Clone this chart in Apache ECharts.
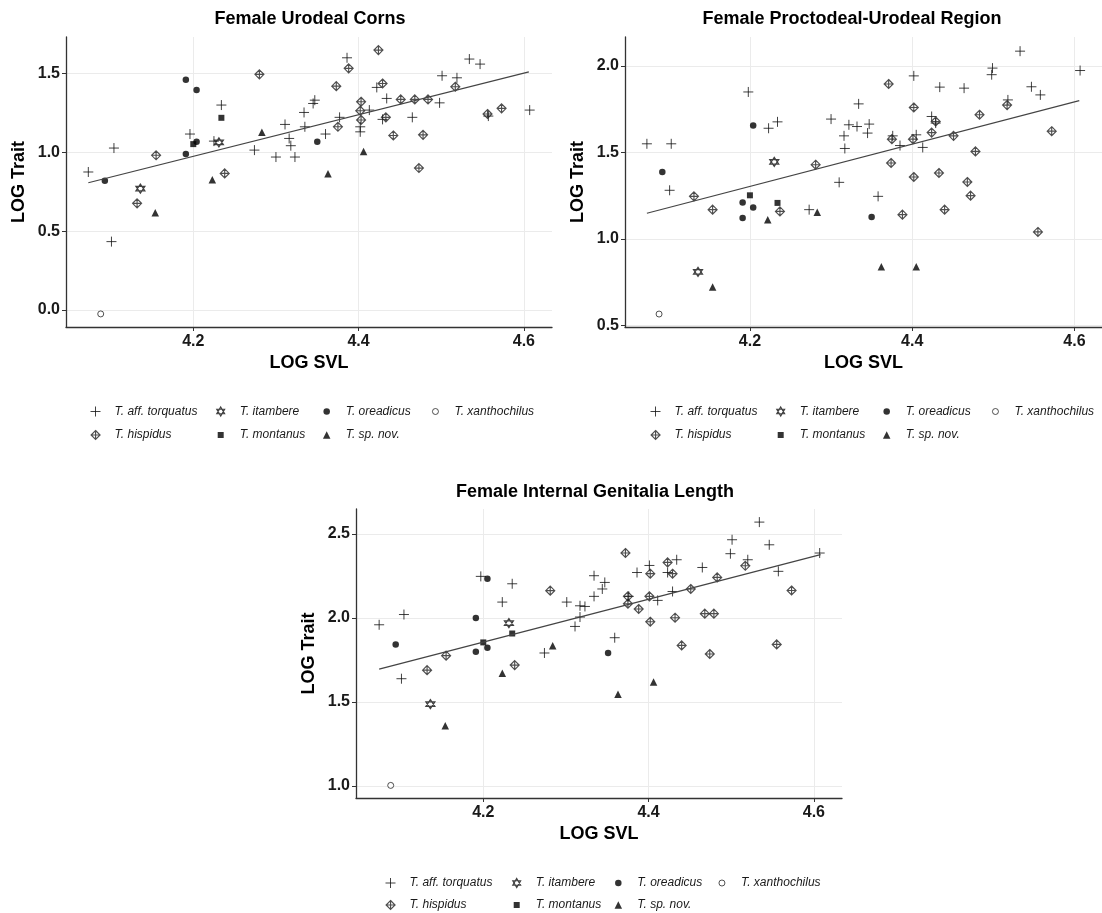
<!DOCTYPE html>
<html><head><meta charset="utf-8">
<script src="https://cdn.jsdelivr.net/npm/echarts@6/dist/echarts.min.js"></script>
<style>html,body{margin:0;padding:0;background:#fff}#chart{width:1102px;height:913px}</style>
</head><body><div id="chart"></div>
<script>
// ---------------- DATA ----------------
const speciesNames = ['T. aff. torquatus','T. itambere','T. oreadicus','T. xanthochilus','T. hispidus','T. montanus','T. sp. nov.'];
const panelTitles = ['Female Urodeal Corns','Female Proctodeal-Urodeal Region','Female Internal Genitalia Length'];
const xAxisTitle = 'LOG SVL';
const yAxisTitle = 'LOG Trait';
const xTickValues = [4.2, 4.4, 4.6];
const yTickValues1 = [0.0, 0.5, 1.0, 1.5];
const yTickValues2 = [0.5, 1.0, 1.5, 2.0];
const yTickValues3 = [1.0, 1.5, 2.0, 2.5];

// Panel 1: Female Urodeal Corns  [LOG SVL, LOG Trait]
const torquatus1 = [[4.073,0.876],[4.104,1.028],[4.101,0.434],[4.196,1.117],[4.234,1.301],[4.225,1.072],[4.274,1.015],[4.300,0.971],[4.323,0.971],[4.311,1.178],[4.316,1.089],[4.318,1.043],[4.334,1.254],[4.335,1.163],[4.345,1.311],[4.347,1.332],[4.386,1.601],[4.377,1.223],[4.360,1.117],[4.402,1.163],[4.402,1.131],[4.413,1.269],[4.422,1.413],[4.434,1.343],[4.429,1.210],[4.465,1.223],[4.498,1.315],[4.501,1.487],[4.519,1.474],[4.534,1.593],[4.547,1.561],[4.557,1.231],[4.607,1.269]];
const itambere1 = [[4.136,0.770],[4.231,1.064]];
const oreadicus1 = [[4.093,0.820],[4.191,1.461],[4.204,1.396],[4.191,0.990],[4.204,1.068],[4.350,1.068]];
const xanthochilus1 = [[4.088,-0.025]];
const hispidus1 = [[4.155,0.982],[4.132,0.677],[4.238,0.867],[4.280,1.496],[4.424,1.650],[4.388,1.534],[4.373,1.421],[4.429,1.438],[4.403,1.322],[4.402,1.265],[4.403,1.206],[4.375,1.163],[4.433,1.223],[4.451,1.337],[4.468,1.337],[4.484,1.337],[4.442,1.108],[4.478,1.112],[4.473,0.901],[4.517,1.417],[4.556,1.244],[4.573,1.280]];
const montanus1 = [[4.200,1.053],[4.234,1.220]];
const spnov1 = [[4.154,0.617],[4.223,0.827],[4.283,1.129],[4.363,0.865],[4.406,1.006]];
const fitLine1 = [[4.073,0.808],[4.606,1.512]];

// Panel 2: Female Proctodeal-Urodeal Region
const torquatus2 = [[4.073,1.550],[4.103,1.550],[4.101,1.281],[4.198,1.850],[4.223,1.640],[4.234,1.677],[4.273,1.169],[4.300,1.693],[4.310,1.327],[4.316,1.596],[4.317,1.523],[4.322,1.660],[4.334,1.781],[4.332,1.650],[4.347,1.664],[4.345,1.612],[4.358,1.246],[4.376,1.596],[4.385,1.540],[4.402,1.943],[4.405,1.602],[4.413,1.529],[4.424,1.708],[4.429,1.670],[4.434,1.878],[4.464,1.872],[4.499,1.988],[4.498,1.950],[4.518,1.804],[4.533,2.086],[4.547,1.880],[4.558,1.833],[4.607,1.974]];
const itambere2 = [[4.136,0.809],[4.230,1.445]];
const oreadicus2 = [[4.092,1.387],[4.204,1.656],[4.191,1.211],[4.191,1.121],[4.204,1.181],[4.350,1.127]];
const xanthochilus2 = [[4.088,0.565]];
const hispidus2 = [[4.131,1.246],[4.154,1.169],[4.237,1.159],[4.281,1.429],[4.371,1.896],[4.375,1.577],[4.374,1.439],[4.388,1.140],[4.402,1.760],[4.401,1.577],[4.402,1.358],[4.424,1.615],[4.429,1.679],[4.433,1.381],[4.440,1.169],[4.451,1.596],[4.468,1.329],[4.472,1.250],[4.478,1.506],[4.483,1.718],[4.517,1.774],[4.555,1.040],[4.572,1.623]];
const montanus2 = [[4.200,1.252],[4.234,1.208]];
const spnov2 = [[4.154,0.721],[4.222,1.110],[4.283,1.154],[4.362,0.838],[4.405,0.838]];
const fitLine2 = [[4.073,1.148],[4.606,1.800]];

// Panel 3: Female Internal Genitalia Length
const torquatus3 = [[4.074,1.960],[4.104,2.021],[4.101,1.639],[4.197,2.248],[4.223,2.095],[4.235,2.204],[4.274,1.792],[4.301,2.095],[4.311,1.950],[4.317,2.073],[4.317,2.006],[4.323,2.069],[4.334,2.252],[4.334,2.129],[4.347,2.212],[4.344,2.173],[4.359,1.883],[4.376,2.129],[4.386,2.271],[4.401,2.313],[4.411,2.105],[4.423,2.271],[4.429,2.158],[4.434,2.347],[4.465,2.301],[4.501,2.466],[4.499,2.383],[4.520,2.347],[4.534,2.571],[4.546,2.436],[4.557,2.278],[4.607,2.387]];
const itambere3 = [[4.136,1.488],[4.231,1.970]];
const oreadicus3 = [[4.094,1.843],[4.191,2.000],[4.191,1.800],[4.205,2.234],[4.205,1.823],[4.351,1.792]];
const xanthochilus3 = [[4.088,1.004]];
const hispidus3 = [[4.132,1.690],[4.155,1.776],[4.238,1.720],[4.281,2.163],[4.372,2.387],[4.375,2.129],[4.375,2.085],[4.388,2.054],[4.402,2.264],[4.401,2.129],[4.402,1.978],[4.423,2.331],[4.429,2.264],[4.432,2.002],[4.440,1.837],[4.451,2.173],[4.468,2.026],[4.479,2.026],[4.474,1.786],[4.483,2.242],[4.517,2.311],[4.555,1.843],[4.573,2.164]];
const montanus3 = [[4.200,1.855],[4.235,1.908]];
const spnov3 = [[4.154,1.359],[4.223,1.671],[4.284,1.835],[4.363,1.546],[4.406,1.619]];
const fitLine3 = [[4.074,1.696],[4.608,2.377]];

// ---------------- ASSEMBLY ----------------
const panelData = [
  [torquatus1, itambere1, oreadicus1, xanthochilus1, hispidus1, montanus1, spnov1],
  [torquatus2, itambere2, oreadicus2, xanthochilus2, hispidus2, montanus2, spnov2],
  [torquatus3, itambere3, oreadicus3, xanthochilus3, hispidus3, montanus3, spnov3]
];
const fitLines = [fitLine1, fitLine2, fitLine3];
const yTickSets = [yTickValues1, yTickValues2, yTickValues3];

const FONT = '"Liberation Sans", Arial, Helvetica, sans-serif';
const layout = [
  {left:66, top:37, width:486, height:290, xMin:4.046, xMax:4.634, yMin:-0.108, yMax:1.733, titleX:310, titleTop:10,
   legendCols:[95,220.7,326.7,435], legendRows:[412.5,436]},
  {left:625, top:37, width:486, height:290, xMin:4.046, xMax:4.634, yMin:0.490, yMax:2.168, titleX:852, titleTop:10,
   legendCols:[655,780.7,886.7,995], legendRows:[412.5,436]},
  {left:356, top:509, width:486, height:289, xMin:4.046, xMax:4.634, yMin:0.929, yMax:2.649, titleX:595, titleTop:483,
   legendCols:[390,516.7,618.3,721.5], legendRows:[884,906]}
];
// legend cell (column,row) for each species
const legendCell = [[0,0],[1,0],[2,0],[3,0],[0,1],[1,1],[2,1]];

const hollow = 'rgba(0,0,0,0)';
const symbolDefs = [
  {symbol:'path://M10,0L10,20M0,10L20,10', size:10, style:{color:hollow, borderColor:'#111', borderWidth:1}},
  {symbol:'path://M10,0L18.66,15L1.34,15ZM10,20L1.34,5L18.66,5Z', size:9, style:{color:hollow, borderColor:'#111', borderWidth:1.2}},
  {symbol:'circle', size:6.5, style:{color:'#000'}},
  {symbol:'circle', size:6, style:{color:'#fff', borderColor:'#111', borderWidth:0.9}},
  {symbol:'path://M10,0L20,10L10,20L0,10ZM10,0L10,20M0,10L20,10', size:9, style:{color:hollow, borderColor:'#222', borderWidth:1.15}},
  {symbol:'rect', size:6, style:{color:'#000'}},
  {symbol:'triangle', size:7.5, style:{color:'#000'}}
];

const grid = [], xAxis = [], yAxis = [], series = [], title = [], legend = [];
const LH = 14;
layout.forEach((L, p) => {
  grid.push({left:L.left, top:L.top, width:L.width, height:L.height, containLabel:false});
  title.push({text:panelTitles[p], left:L.titleX, top:L.titleTop, textAlign:'center', padding:0,
    textStyle:{fontFamily:FONT, fontWeight:'bold', fontSize:18, color:'#000'}});
  xAxis.push({
    type:'value', gridIndex:p, min:L.xMin, max:L.xMax,
    name:xAxisTitle, nameLocation:'middle', nameGap:27,
    nameTextStyle:{fontFamily:FONT, fontWeight:'bold', fontSize:18, color:'#000'},
    axisLine:{show:true, onZero:false, lineStyle:{color:'#333', width:1.3}},
    axisTick:{show:true, length:4, customValues:xTickValues, lineStyle:{color:'#333'}},
    axisLabel:{customValues:xTickValues, formatter:v => Number(v).toFixed(1), fontFamily:FONT, fontWeight:'bold', fontSize:16, color:'#1a1a1a', margin:7},
    splitLine:{show:true, lineStyle:{color:'#EBEBEB', width:1}}
  });
  yAxis.push({
    type:'value', gridIndex:p, min:L.yMin, max:L.yMax,
    name:yAxisTitle, nameLocation:'middle', nameRotate:90, nameGap:38,
    nameTextStyle:{fontFamily:FONT, fontWeight:'bold', fontSize:18, color:'#000'},
    axisLine:{show:true, onZero:false, lineStyle:{color:'#333', width:1.3}},
    axisTick:{show:true, length:4, customValues:yTickSets[p], lineStyle:{color:'#333'}},
    axisLabel:{customValues:yTickSets[p], formatter:v => Number(v).toFixed(1), fontFamily:FONT, fontWeight:'bold', fontSize:16, color:'#1a1a1a', margin:6},
    splitLine:{show:true, lineStyle:{color:'#EBEBEB', width:1}}
  });
  speciesNames.forEach((name, s) => {
    const d = symbolDefs[s];
    series.push({
      type:'scatter', name:name, xAxisIndex:p, yAxisIndex:p,
      data:panelData[p][s], symbol:d.symbol, symbolSize:d.size,
      itemStyle:Object.assign({}, d.style), emphasis:{disabled:true}, z:2
    });
    const [c, r] = legendCell[s];
    const iw = d.size;
    const pad = Math.max(0, 19 - iw / 2 - 5);
    legend.push({
      show:true, selectedMode:false, orient:'horizontal', padding:0,
      left:L.legendCols[c] - iw / 2, top:L.legendRows[r] - LH / 2,
      itemWidth:iw, itemHeight:iw,
      data:[{name:name, icon:d.symbol, itemStyle:Object.assign({}, d.style)}],
      formatter:'{n|{name}}',
      textStyle:{rich:{n:{fontFamily:FONT, fontStyle:'italic', fontSize:12, color:'#1a1a1a', padding:[0,0,0,pad], lineHeight:LH}}}
    });
  });
  series.push({
    type:'line', name:'fit' + p, xAxisIndex:p, yAxisIndex:p, data:fitLines[p],
    showSymbol:false, symbol:'none', lineStyle:{color:'#444', width:1.2}, emphasis:{disabled:true}, z:3
  });
});

const chart = echarts.init(document.getElementById('chart'), null, {renderer:'canvas'});
chart.setOption({
  animation:false, backgroundColor:'#fff',
  title, grid, xAxis, yAxis, legend, series
});
</script></body></html>
